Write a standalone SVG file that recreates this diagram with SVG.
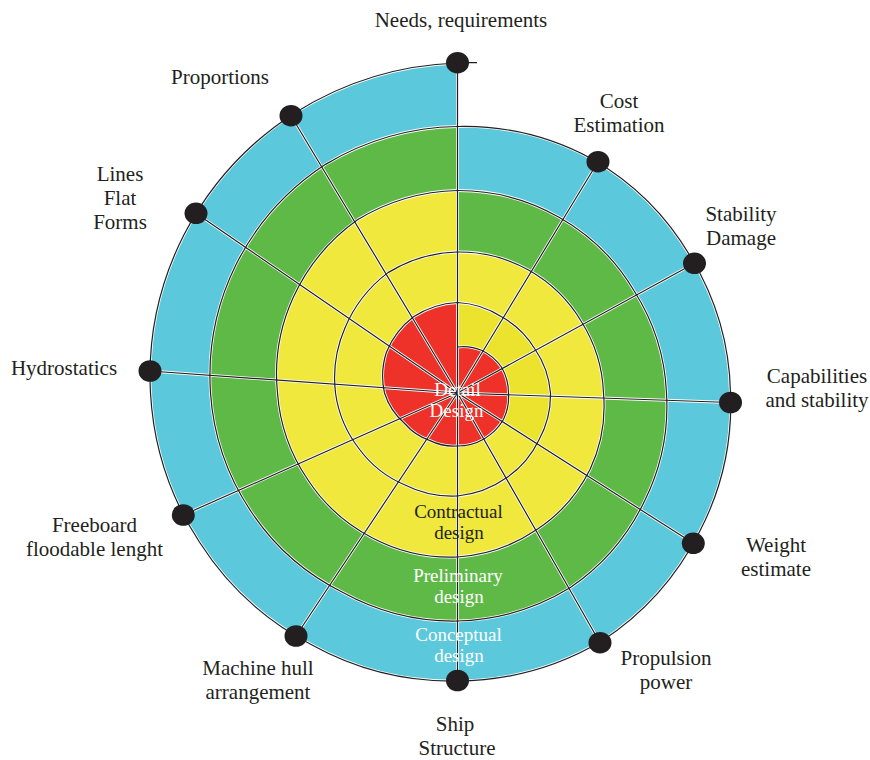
<svg xmlns="http://www.w3.org/2000/svg" width="870" height="760" viewBox="0 0 870 760">
<defs>
<style>
.lbl{font-family:"Liberation Serif","Times New Roman",serif;font-size:21px;fill:#231F20;text-anchor:middle}
.in{font-family:"Liberation Serif","Times New Roman",serif;font-size:19px;text-anchor:middle}
.halo{fill:none;stroke:#FFFFFF;stroke-width:2.8;stroke-linejoin:round}
.ln{fill:none;stroke:#231F20;stroke-width:1.2;stroke-linejoin:round}
.dot{fill:#231F20}
</style>
</defs>
<rect width="870" height="760" fill="#FFFFFF"/>
<g id="regions">
<path id="conceptual" fill="#5BC8DB" d="M457.5,126.5 A268.5,268.5 0 0 1 592.5,159.17 A270,270 0 0 1 691.33,258 A271.5,271.5 0 0 1 730.5,393 A276,276 0 0 1 699.12,532.5 A283,283 0 0 1 601,641.55 A287.5,287.5 0 0 1 457.5,681 A289.5,289.5 0 0 1 312,645.01 A294.5,294.5 0 0 1 199.42,542 A302.5,302.5 0 0 1 150.5,393 A311.5,311.5 0 0 1 183.84,235 A320,320 0 0 1 295.5,112.41 A327,327 0 0 1 457.5,63 Z"/>
<path id="preliminary" fill="#5EB947" d="M457.5,190.5 A202.5,202.5 0 0 1 559,217.2 A203.5,203.5 0 0 1 634.17,291 A206.5,206.5 0 0 1 666.5,393 A212.5,212.5 0 0 1 644.56,501 A220.5,220.5 0 0 1 570,587.86 A226.5,226.5 0 0 1 457.5,621 A229,229 0 0 1 342.5,592.19 A234,234 0 0 1 251.39,512 A242.5,242.5 0 0 1 210.5,393 A251.5,251.5 0 0 1 235.8,265 A259.5,259.5 0 0 1 325.5,164.37 A265,265 0 0 1 457.5,126.5 Z"/>
<path id="contractual" fill="#F0E83C" d="M457.5,252 A141.5,141.5 0 0 1 528.5,270.03 A142.5,142.5 0 0 1 581.34,321.5 A144.5,144.5 0 0 1 603.5,393 A149.5,149.5 0 0 1 590,469.5 A155.5,155.5 0 0 1 536.5,529.83 A161,161 0 0 1 457.5,557 A166,166 0 0 1 373.5,538.49 A170.5,170.5 0 0 1 307.68,479.5 A176.5,176.5 0 0 1 277.5,393 A185,185 0 0 1 292.96,298 A195,195 0 0 1 357.5,219.8 A201.5,201.5 0 0 1 457.5,190.5 Z"/>
<path id="contractual-inner" fill="#EBE32E" d="M457.5,302.5 A89.5,89.5 0 0 1 501.5,316.79 A88.5,88.5 0 0 1 534.57,348.5 A91,91 0 0 1 550.5,393 A93.5,93.5 0 0 1 536.6,443.8 L502.1,421.6 A52,52 0 0 0 508.5,393 A51,51 0 0 0 501.67,367.5 A50,50 0 0 0 482,350.56 A47.5,47.5 0 0 0 457.5,347 Z"/>
<path id="detail" fill="#EE3129" d="M457.5,347 A47.5,47.5 0 0 1 482,350.56 A50,50 0 0 1 501.67,367.5 A51,51 0 0 1 508.5,393 A52,52 0 0 1 503.4,419.5 A53,53 0 0 1 484,438.9 A53,53 0 0 1 457.5,446 A54,54 0 0 1 430,440.63 A58,58 0 0 1 404.67,423.5 A67,67 0 0 1 384.5,393 A77.5,77.5 0 0 1 386.49,352 A85,85 0 0 1 413.5,316.79 A89,89 0 0 1 457.5,302.5 Z"/>
</g>
<g id="connectors">
<defs>
<path id="spiral" d="M457.5,347 A47.5,47.5 0 0 1 482,350.56 A50,50 0 0 1 501.67,367.5 A51,51 0 0 1 508.5,393 A52,52 0 0 1 503.4,419.5 A53,53 0 0 1 484,438.9 A53,53 0 0 1 457.5,446 A54,54 0 0 1 430,440.63 A58,58 0 0 1 404.67,423.5 A67,67 0 0 1 384.5,393 A77.5,77.5 0 0 1 386.49,352 A85,85 0 0 1 413.5,316.79 A89,89 0 0 1 457.5,302.5 A89.5,89.5 0 0 1 501.5,316.79 A88.5,88.5 0 0 1 534.57,348.5 A91,91 0 0 1 550.5,393 A93.5,93.5 0 0 1 538.9,440 A96,96 0 0 1 506.5,477.87 A100.5,100.5 0 0 1 457.5,496 A104.5,104.5 0 0 1 404.5,484.8 A109.5,109.5 0 0 1 359.64,449.5 A117.5,117.5 0 0 1 335.5,393 A126,126 0 0 1 344.92,328 A134.5,134.5 0 0 1 388,272.63 A140,140 0 0 1 457.5,252 A141.5,141.5 0 0 1 528.5,270.03 A142.5,142.5 0 0 1 581.34,321.5 A144.5,144.5 0 0 1 603.5,393 A149.5,149.5 0 0 1 590,469.5 A155.5,155.5 0 0 1 536.5,529.83 A161,161 0 0 1 457.5,557 A166,166 0 0 1 373.5,538.49 A170.5,170.5 0 0 1 307.68,479.5 A176.5,176.5 0 0 1 277.5,393 A185,185 0 0 1 292.96,298 A195,195 0 0 1 357.5,219.8 A201.5,201.5 0 0 1 457.5,190.5 A202.5,202.5 0 0 1 559,217.2 A203.5,203.5 0 0 1 634.17,291 A206.5,206.5 0 0 1 666.5,393 A212.5,212.5 0 0 1 644.56,501 A220.5,220.5 0 0 1 570,587.86 A226.5,226.5 0 0 1 457.5,621 A229,229 0 0 1 342.5,592.19 A234,234 0 0 1 251.39,512 A242.5,242.5 0 0 1 210.5,393 A251.5,251.5 0 0 1 235.8,265 A259.5,259.5 0 0 1 325.5,164.37 A265,265 0 0 1 457.5,126.5 A268.5,268.5 0 0 1 592.5,159.17 A270,270 0 0 1 691.33,258 A271.5,271.5 0 0 1 730.5,393 A276,276 0 0 1 699.12,532.5 A283,283 0 0 1 601,641.55 A287.5,287.5 0 0 1 457.5,681 A289.5,289.5 0 0 1 312,645.01 A294.5,294.5 0 0 1 199.42,542 A302.5,302.5 0 0 1 150.5,393 A311.5,311.5 0 0 1 183.84,235 A320,320 0 0 1 295.5,112.41 A327,327 0 0 1 457.5,63"/>
<path id="spokes" d="M457.5,393 L457.5,62.7 M457.5,393 L598,161.7 M457.5,393 L694.5,263.3 M457.5,393 L730.5,402.5 M457.5,393 L693.3,543.3 M457.5,393 L600,642.7 M457.5,393 L457.5,680.5 M457.5,393 L296,636 M457.5,393 L183.3,515 M457.5,393 L150,371 M457.5,393 L196,213.3 M457.5,393 L291,115.7 M457.5,62.7 L477,62.7"/>
</defs>
<use href="#spiral" class="halo"/>
<use href="#spokes" class="halo"/>
<use href="#spiral" class="ln"/>
<use href="#spokes" class="ln"/>
</g>
<g id="n-needs"><ellipse class="dot" cx="457.5" cy="62.7" rx="11.5" ry="10.8"/><text class="lbl" x="461" y="27">Needs, requirements</text></g>
<g id="n-cost"><ellipse class="dot" cx="598" cy="161.7" rx="11.5" ry="10.8"/><text class="lbl"><tspan x="619" y="108">Cost</tspan><tspan x="619" dy="24">Estimation</tspan></text></g>
<g id="n-stability"><ellipse class="dot" cx="694.5" cy="263.3" rx="11.5" ry="10.8"/><text class="lbl"><tspan x="741" y="221">Stability</tspan><tspan x="741" dy="24">Damage</tspan></text></g>
<g id="n-capabilities"><ellipse class="dot" cx="730.5" cy="402.5" rx="11.5" ry="10.8"/><text class="lbl"><tspan x="817" y="383">Capabilities</tspan><tspan x="817" dy="24">and stability</tspan></text></g>
<g id="n-weight"><ellipse class="dot" cx="693.3" cy="543.3" rx="11.5" ry="10.8"/><text class="lbl"><tspan x="776" y="552">Weight</tspan><tspan x="776" dy="24">estimate</tspan></text></g>
<g id="n-propulsion"><ellipse class="dot" cx="600" cy="642.7" rx="11.5" ry="10.8"/><text class="lbl"><tspan x="666" y="665">Propulsion</tspan><tspan x="666" dy="24">power</tspan></text></g>
<g id="n-ship"><ellipse class="dot" cx="457.5" cy="680.5" rx="11.5" ry="10.8"/><text class="lbl"><tspan x="455" y="731">Ship</tspan><tspan x="457" dy="24">Structure</tspan></text></g>
<g id="n-machine"><ellipse class="dot" cx="296" cy="636" rx="11.5" ry="10.8"/><text class="lbl"><tspan x="258" y="675">Machine hull</tspan><tspan x="258" dy="24">arrangement</tspan></text></g>
<g id="n-freeboard"><ellipse class="dot" cx="183.3" cy="515" rx="11.5" ry="10.8"/><text class="lbl"><tspan x="94.5" y="532">Freeboard</tspan><tspan x="94.5" dy="24">floodable lenght</tspan></text></g>
<g id="n-hydrostatics"><ellipse class="dot" cx="150" cy="371" rx="11.5" ry="10.8"/><text class="lbl" x="64" y="375">Hydrostatics</text></g>
<g id="n-lines"><ellipse class="dot" cx="196" cy="213.3" rx="11.5" ry="10.8"/><text class="lbl"><tspan x="120" y="181">Lines</tspan><tspan x="120" dy="24">Flat</tspan><tspan x="120" dy="24">Forms</tspan></text></g>
<g id="n-proportions"><ellipse class="dot" cx="291" cy="115.7" rx="11.5" ry="10.8"/><text class="lbl" x="220" y="84">Proportions</text></g>
<g id="stage-labels">
<text class="in" fill="#FFFFFF"><tspan x="457.5" y="396">Detail</tspan><tspan x="456.5" dy="21.2">Design</tspan></text>
<text class="in" fill="#231F20"><tspan x="458.5" y="518">Contractual</tspan><tspan x="459" dy="21.2">design</tspan></text>
<text class="in" fill="#FFFFFF"><tspan x="458" y="582">Preliminary</tspan><tspan x="459" dy="21.2">design</tspan></text>
<text class="in" fill="#FFFFFF"><tspan x="458.5" y="641">Conceptual</tspan><tspan x="459" dy="21.2">design</tspan></text>
</g>
</svg>
